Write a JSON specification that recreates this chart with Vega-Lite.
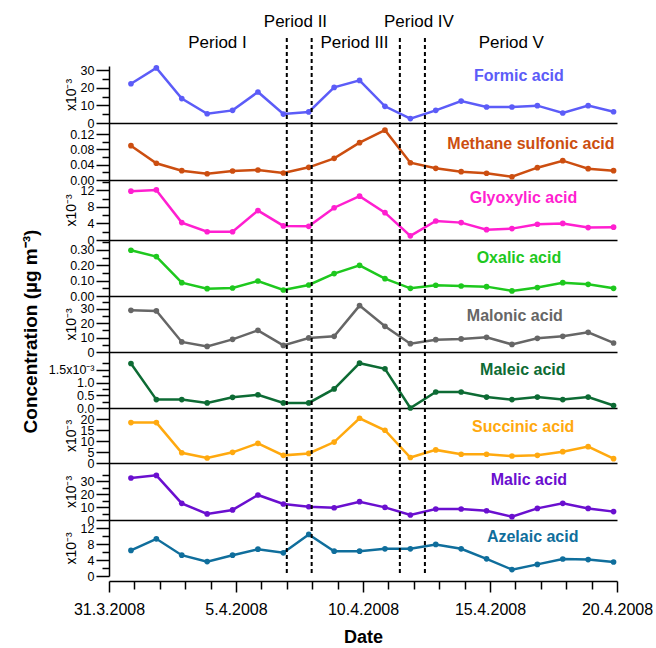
{
  "$schema": "https://vega.github.io/schema/vega-lite/v6.json",
  "padding": {"left": 20, "top": 0, "right": 0, "bottom": 0},
  "spacing": 0,
  "bounds": "flush",
  "config": {
    "view": {"stroke": null},
    "font": "Liberation Sans",
    "axis": {"labelFont": "Liberation Sans", "titleFont": "Liberation Sans", "grid": false, "domainColor": "black", "domainWidth": 1.5, "tickColor": "black", "tickWidth": 1.5, "labelColor": "black", "titleColor": "black", "labelOverlap": false, "tickCount": 100},
    "axisY": {"labelFontSize": 12.5, "labelPadding": 2, "titleFontSize": 14, "titleFontWeight": "normal", "titlePadding": 2, "labelOverlap": false, "labelBound": false}
  },
  "datasets": {
    "conc": [
      {"date":"2008-03-31T20:45:00","acid":"Formic acid","conc":0.0224},
      {"date":"2008-04-01T20:45:00","acid":"Formic acid","conc":0.0314},
      {"date":"2008-04-02T20:45:00","acid":"Formic acid","conc":0.0139},
      {"date":"2008-04-03T20:45:00","acid":"Formic acid","conc":0.0053},
      {"date":"2008-04-04T20:45:00","acid":"Formic acid","conc":0.0072},
      {"date":"2008-04-05T20:45:00","acid":"Formic acid","conc":0.0177},
      {"date":"2008-04-06T20:45:00","acid":"Formic acid","conc":0.0051},
      {"date":"2008-04-07T20:45:00","acid":"Formic acid","conc":0.0063},
      {"date":"2008-04-08T20:45:00","acid":"Formic acid","conc":0.0203},
      {"date":"2008-04-09T20:45:00","acid":"Formic acid","conc":0.0243},
      {"date":"2008-04-10T20:45:00","acid":"Formic acid","conc":0.0095},
      {"date":"2008-04-11T20:45:00","acid":"Formic acid","conc":0.0025},
      {"date":"2008-04-12T20:45:00","acid":"Formic acid","conc":0.0072},
      {"date":"2008-04-13T20:45:00","acid":"Formic acid","conc":0.0125},
      {"date":"2008-04-14T20:45:00","acid":"Formic acid","conc":0.0091},
      {"date":"2008-04-15T20:45:00","acid":"Formic acid","conc":0.0091},
      {"date":"2008-04-16T20:45:00","acid":"Formic acid","conc":0.0099},
      {"date":"2008-04-17T20:45:00","acid":"Formic acid","conc":0.0057},
      {"date":"2008-04-18T20:45:00","acid":"Formic acid","conc":0.0099},
      {"date":"2008-04-19T20:45:00","acid":"Formic acid","conc":0.0064},

      {"date":"2008-03-31T20:45:00","acid":"Methane sulfonic acid","conc":0.0895},
      {"date":"2008-04-01T20:45:00","acid":"Methane sulfonic acid","conc":0.0436},
      {"date":"2008-04-02T20:45:00","acid":"Methane sulfonic acid","conc":0.0243},
      {"date":"2008-04-03T20:45:00","acid":"Methane sulfonic acid","conc":0.0164},
      {"date":"2008-04-04T20:45:00","acid":"Methane sulfonic acid","conc":0.0235},
      {"date":"2008-04-05T20:45:00","acid":"Methane sulfonic acid","conc":0.0261},
      {"date":"2008-04-06T20:45:00","acid":"Methane sulfonic acid","conc":0.0183},
      {"date":"2008-04-07T20:45:00","acid":"Methane sulfonic acid","conc":0.0331},
      {"date":"2008-04-08T20:45:00","acid":"Methane sulfonic acid","conc":0.0566},
      {"date":"2008-04-09T20:45:00","acid":"Methane sulfonic acid","conc":0.0973},
      {"date":"2008-04-10T20:45:00","acid":"Methane sulfonic acid","conc":0.1300},
      {"date":"2008-04-11T20:45:00","acid":"Methane sulfonic acid","conc":0.0451},
      {"date":"2008-04-12T20:45:00","acid":"Methane sulfonic acid","conc":0.0305},
      {"date":"2008-04-13T20:45:00","acid":"Methane sulfonic acid","conc":0.0217},
      {"date":"2008-04-14T20:45:00","acid":"Methane sulfonic acid","conc":0.0175},
      {"date":"2008-04-15T20:45:00","acid":"Methane sulfonic acid","conc":0.0086},
      {"date":"2008-04-16T20:45:00","acid":"Methane sulfonic acid","conc":0.0321},
      {"date":"2008-04-17T20:45:00","acid":"Methane sulfonic acid","conc":0.0504},
      {"date":"2008-04-18T20:45:00","acid":"Methane sulfonic acid","conc":0.0295},
      {"date":"2008-04-19T20:45:00","acid":"Methane sulfonic acid","conc":0.0243},

      {"date":"2008-03-31T20:45:00","acid":"Glyoxylic acid","conc":0.0118},
      {"date":"2008-04-01T20:45:00","acid":"Glyoxylic acid","conc":0.0121},
      {"date":"2008-04-02T20:45:00","acid":"Glyoxylic acid","conc":0.0042},
      {"date":"2008-04-03T20:45:00","acid":"Glyoxylic acid","conc":0.0020},
      {"date":"2008-04-04T20:45:00","acid":"Glyoxylic acid","conc":0.0020},
      {"date":"2008-04-05T20:45:00","acid":"Glyoxylic acid","conc":0.0071},
      {"date":"2008-04-06T20:45:00","acid":"Glyoxylic acid","conc":0.0034},
      {"date":"2008-04-07T20:45:00","acid":"Glyoxylic acid","conc":0.0033},
      {"date":"2008-04-08T20:45:00","acid":"Glyoxylic acid","conc":0.0078},
      {"date":"2008-04-09T20:45:00","acid":"Glyoxylic acid","conc":0.0106},
      {"date":"2008-04-10T20:45:00","acid":"Glyoxylic acid","conc":0.0066},
      {"date":"2008-04-11T20:45:00","acid":"Glyoxylic acid","conc":0.0010},
      {"date":"2008-04-12T20:45:00","acid":"Glyoxylic acid","conc":0.0046},
      {"date":"2008-04-13T20:45:00","acid":"Glyoxylic acid","conc":0.0042},
      {"date":"2008-04-14T20:45:00","acid":"Glyoxylic acid","conc":0.0025},
      {"date":"2008-04-15T20:45:00","acid":"Glyoxylic acid","conc":0.00275},
      {"date":"2008-04-16T20:45:00","acid":"Glyoxylic acid","conc":0.0038},
      {"date":"2008-04-17T20:45:00","acid":"Glyoxylic acid","conc":0.0040},
      {"date":"2008-04-18T20:45:00","acid":"Glyoxylic acid","conc":0.0030},
      {"date":"2008-04-19T20:45:00","acid":"Glyoxylic acid","conc":0.0031},

      {"date":"2008-03-31T20:45:00","acid":"Oxalic acid","conc":0.298},
      {"date":"2008-04-01T20:45:00","acid":"Oxalic acid","conc":0.257},
      {"date":"2008-04-02T20:45:00","acid":"Oxalic acid","conc":0.087},
      {"date":"2008-04-03T20:45:00","acid":"Oxalic acid","conc":0.048},
      {"date":"2008-04-04T20:45:00","acid":"Oxalic acid","conc":0.052},
      {"date":"2008-04-05T20:45:00","acid":"Oxalic acid","conc":0.098},
      {"date":"2008-04-06T20:45:00","acid":"Oxalic acid","conc":0.039},
      {"date":"2008-04-07T20:45:00","acid":"Oxalic acid","conc":0.072},
      {"date":"2008-04-08T20:45:00","acid":"Oxalic acid","conc":0.146},
      {"date":"2008-04-09T20:45:00","acid":"Oxalic acid","conc":0.200},
      {"date":"2008-04-10T20:45:00","acid":"Oxalic acid","conc":0.113},
      {"date":"2008-04-11T20:45:00","acid":"Oxalic acid","conc":0.050},
      {"date":"2008-04-12T20:45:00","acid":"Oxalic acid","conc":0.070},
      {"date":"2008-04-13T20:45:00","acid":"Oxalic acid","conc":0.065},
      {"date":"2008-04-14T20:45:00","acid":"Oxalic acid","conc":0.061},
      {"date":"2008-04-15T20:45:00","acid":"Oxalic acid","conc":0.033},
      {"date":"2008-04-16T20:45:00","acid":"Oxalic acid","conc":0.055},
      {"date":"2008-04-17T20:45:00","acid":"Oxalic acid","conc":0.087},
      {"date":"2008-04-18T20:45:00","acid":"Oxalic acid","conc":0.076},
      {"date":"2008-04-19T20:45:00","acid":"Oxalic acid","conc":0.050},

      {"date":"2008-03-31T20:45:00","acid":"Malonic acid","conc":0.0290},
      {"date":"2008-04-01T20:45:00","acid":"Malonic acid","conc":0.0286},
      {"date":"2008-04-02T20:45:00","acid":"Malonic acid","conc":0.0070},
      {"date":"2008-04-03T20:45:00","acid":"Malonic acid","conc":0.0039},
      {"date":"2008-04-04T20:45:00","acid":"Malonic acid","conc":0.0088},
      {"date":"2008-04-05T20:45:00","acid":"Malonic acid","conc":0.0151},
      {"date":"2008-04-06T20:45:00","acid":"Malonic acid","conc":0.0046},
      {"date":"2008-04-07T20:45:00","acid":"Malonic acid","conc":0.0098},
      {"date":"2008-04-08T20:45:00","acid":"Malonic acid","conc":0.0109},
      {"date":"2008-04-09T20:45:00","acid":"Malonic acid","conc":0.0323},
      {"date":"2008-04-10T20:45:00","acid":"Malonic acid","conc":0.0179},
      {"date":"2008-04-11T20:45:00","acid":"Malonic acid","conc":0.0058},
      {"date":"2008-04-12T20:45:00","acid":"Malonic acid","conc":0.0086},
      {"date":"2008-04-13T20:45:00","acid":"Malonic acid","conc":0.0091},
      {"date":"2008-04-14T20:45:00","acid":"Malonic acid","conc":0.0102},
      {"date":"2008-04-15T20:45:00","acid":"Malonic acid","conc":0.0053},
      {"date":"2008-04-16T20:45:00","acid":"Malonic acid","conc":0.0095},
      {"date":"2008-04-17T20:45:00","acid":"Malonic acid","conc":0.0109},
      {"date":"2008-04-18T20:45:00","acid":"Malonic acid","conc":0.0137},
      {"date":"2008-04-19T20:45:00","acid":"Malonic acid","conc":0.0063},

      {"date":"2008-03-31T20:45:00","acid":"Maleic acid","conc":0.00175},
      {"date":"2008-04-01T20:45:00","acid":"Maleic acid","conc":0.00033},
      {"date":"2008-04-02T20:45:00","acid":"Maleic acid","conc":0.00033},
      {"date":"2008-04-03T20:45:00","acid":"Maleic acid","conc":0.00020},
      {"date":"2008-04-04T20:45:00","acid":"Maleic acid","conc":0.00042},
      {"date":"2008-04-05T20:45:00","acid":"Maleic acid","conc":0.00052},
      {"date":"2008-04-06T20:45:00","acid":"Maleic acid","conc":0.00020},
      {"date":"2008-04-07T20:45:00","acid":"Maleic acid","conc":0.00020},
      {"date":"2008-04-08T20:45:00","acid":"Maleic acid","conc":0.00075},
      {"date":"2008-04-09T20:45:00","acid":"Maleic acid","conc":0.00176},
      {"date":"2008-04-10T20:45:00","acid":"Maleic acid","conc":0.00154},
      {"date":"2008-04-11T20:45:00","acid":"Maleic acid","conc":0.0},
      {"date":"2008-04-12T20:45:00","acid":"Maleic acid","conc":0.00063},
      {"date":"2008-04-13T20:45:00","acid":"Maleic acid","conc":0.00063},
      {"date":"2008-04-14T20:45:00","acid":"Maleic acid","conc":0.00043},
      {"date":"2008-04-15T20:45:00","acid":"Maleic acid","conc":0.00033},
      {"date":"2008-04-16T20:45:00","acid":"Maleic acid","conc":0.00043},
      {"date":"2008-04-17T20:45:00","acid":"Maleic acid","conc":0.00033},
      {"date":"2008-04-18T20:45:00","acid":"Maleic acid","conc":0.00043},
      {"date":"2008-04-19T20:45:00","acid":"Maleic acid","conc":0.00010},

      {"date":"2008-03-31T20:45:00","acid":"Succinic acid","conc":0.0185},
      {"date":"2008-04-01T20:45:00","acid":"Succinic acid","conc":0.0185},
      {"date":"2008-04-02T20:45:00","acid":"Succinic acid","conc":0.0047},
      {"date":"2008-04-03T20:45:00","acid":"Succinic acid","conc":0.0023},
      {"date":"2008-04-04T20:45:00","acid":"Succinic acid","conc":0.0049},
      {"date":"2008-04-05T20:45:00","acid":"Succinic acid","conc":0.0090},
      {"date":"2008-04-06T20:45:00","acid":"Succinic acid","conc":0.0035},
      {"date":"2008-04-07T20:45:00","acid":"Succinic acid","conc":0.0044},
      {"date":"2008-04-08T20:45:00","acid":"Succinic acid","conc":0.0096},
      {"date":"2008-04-09T20:45:00","acid":"Succinic acid","conc":0.0205},
      {"date":"2008-04-10T20:45:00","acid":"Succinic acid","conc":0.0150},
      {"date":"2008-04-11T20:45:00","acid":"Succinic acid","conc":0.0025},
      {"date":"2008-04-12T20:45:00","acid":"Succinic acid","conc":0.0060},
      {"date":"2008-04-13T20:45:00","acid":"Succinic acid","conc":0.0040},
      {"date":"2008-04-14T20:45:00","acid":"Succinic acid","conc":0.0040},
      {"date":"2008-04-15T20:45:00","acid":"Succinic acid","conc":0.0032},
      {"date":"2008-04-16T20:45:00","acid":"Succinic acid","conc":0.0035},
      {"date":"2008-04-17T20:45:00","acid":"Succinic acid","conc":0.0052},
      {"date":"2008-04-18T20:45:00","acid":"Succinic acid","conc":0.0075},
      {"date":"2008-04-19T20:45:00","acid":"Succinic acid","conc":0.0020},

      {"date":"2008-03-31T20:45:00","acid":"Malic acid","conc":0.0326},
      {"date":"2008-04-01T20:45:00","acid":"Malic acid","conc":0.0346},
      {"date":"2008-04-02T20:45:00","acid":"Malic acid","conc":0.0129},
      {"date":"2008-04-03T20:45:00","acid":"Malic acid","conc":0.0047},
      {"date":"2008-04-04T20:45:00","acid":"Malic acid","conc":0.0078},
      {"date":"2008-04-05T20:45:00","acid":"Malic acid","conc":0.0194},
      {"date":"2008-04-06T20:45:00","acid":"Malic acid","conc":0.0124},
      {"date":"2008-04-07T20:45:00","acid":"Malic acid","conc":0.0103},
      {"date":"2008-04-08T20:45:00","acid":"Malic acid","conc":0.0095},
      {"date":"2008-04-09T20:45:00","acid":"Malic acid","conc":0.0142},
      {"date":"2008-04-10T20:45:00","acid":"Malic acid","conc":0.0098},
      {"date":"2008-04-11T20:45:00","acid":"Malic acid","conc":0.0039},
      {"date":"2008-04-12T20:45:00","acid":"Malic acid","conc":0.0085},
      {"date":"2008-04-13T20:45:00","acid":"Malic acid","conc":0.0085},
      {"date":"2008-04-14T20:45:00","acid":"Malic acid","conc":0.0072},
      {"date":"2008-04-15T20:45:00","acid":"Malic acid","conc":0.0026},
      {"date":"2008-04-16T20:45:00","acid":"Malic acid","conc":0.0090},
      {"date":"2008-04-17T20:45:00","acid":"Malic acid","conc":0.0129},
      {"date":"2008-04-18T20:45:00","acid":"Malic acid","conc":0.0090},
      {"date":"2008-04-19T20:45:00","acid":"Malic acid","conc":0.0065},

      {"date":"2008-03-31T20:45:00","acid":"Azelaic acid","conc":0.0064},
      {"date":"2008-04-01T20:45:00","acid":"Azelaic acid","conc":0.0093},
      {"date":"2008-04-02T20:45:00","acid":"Azelaic acid","conc":0.0052},
      {"date":"2008-04-03T20:45:00","acid":"Azelaic acid","conc":0.0036},
      {"date":"2008-04-04T20:45:00","acid":"Azelaic acid","conc":0.0052},
      {"date":"2008-04-05T20:45:00","acid":"Azelaic acid","conc":0.0067},
      {"date":"2008-04-06T20:45:00","acid":"Azelaic acid","conc":0.0058},
      {"date":"2008-04-07T20:45:00","acid":"Azelaic acid","conc":0.0104},
      {"date":"2008-04-08T20:45:00","acid":"Azelaic acid","conc":0.0062},
      {"date":"2008-04-09T20:45:00","acid":"Azelaic acid","conc":0.0062},
      {"date":"2008-04-10T20:45:00","acid":"Azelaic acid","conc":0.0068},
      {"date":"2008-04-11T20:45:00","acid":"Azelaic acid","conc":0.0068},
      {"date":"2008-04-12T20:45:00","acid":"Azelaic acid","conc":0.0079},
      {"date":"2008-04-13T20:45:00","acid":"Azelaic acid","conc":0.0068},
      {"date":"2008-04-14T20:45:00","acid":"Azelaic acid","conc":0.0043},
      {"date":"2008-04-15T20:45:00","acid":"Azelaic acid","conc":0.0016},
      {"date":"2008-04-16T20:45:00","acid":"Azelaic acid","conc":0.0029},
      {"date":"2008-04-17T20:45:00","acid":"Azelaic acid","conc":0.00425},
      {"date":"2008-04-18T20:45:00","acid":"Azelaic acid","conc":0.0041},
      {"date":"2008-04-19T20:45:00","acid":"Azelaic acid","conc":0.0035}
    ],
    "names": [
      {"acid":"Formic acid","date":"2008-04-16T03:20:00","conc":0.027},
      {"acid":"Methane sulfonic acid","date":"2008-04-16T14:40:00","conc":0.0931},
      {"acid":"Glyoxylic acid","date":"2008-04-16T07:40:00","conc":0.0101},
      {"acid":"Oxalic acid","date":"2008-04-16T03:20:00","conc":0.248},
      {"acid":"Malonic acid","date":"2008-04-15T23:30:00","conc":0.0251},
      {"acid":"Maleic acid","date":"2008-04-16T07:00:00","conc":0.00149},
      {"acid":"Succinic acid","date":"2008-04-16T07:25:00","conc":0.0163},
      {"acid":"Malic acid","date":"2008-04-16T12:45:00","conc":0.031},
      {"acid":"Azelaic acid","date":"2008-04-16T16:20:00","conc":0.00975}
    ],
    "bounds": [
      {"date":"2008-04-07T00:00:00"},
      {"date":"2008-04-07T23:30:00"},
      {"date":"2008-04-11T10:50:00"},
      {"date":"2008-04-12T10:30:00"}
    ],
    "periods": [
      {"period":"Period I","date":"2008-04-04T06:30:00","tier":"lower"},
      {"period":"Period II","date":"2008-04-07T08:10:00","tier":"upper"},
      {"period":"Period III","date":"2008-04-09T16:00:00","tier":"lower"},
      {"period":"Period IV","date":"2008-04-12T04:50:00","tier":"upper"},
      {"period":"Period V","date":"2008-04-15T20:10:00","tier":"lower"}
    ]
  },
  "vconcat": [
    {
      "width": 508, "height": 66,
      "encoding": {"x": {"field": "date", "type": "temporal", "scale": {"domain": [{"year":2008,"month":3,"date":31},{"year":2008,"month":4,"date":20}], "nice": false}, "axis": null}},
      "layer": [
        {"data": {"name": "bounds"}, "mark": {"type": "rule", "strokeDash": [4,3], "strokeWidth": 2, "color": "black"},
         "encoding": {"y": {"datum": 28, "type": "quantitative", "scale": {"domain": [0,66]}, "axis": null}, "y2": {"datum": 0}}},
        {"data": {"name": "periods"}, "mark": {"type": "text", "fontSize": 17, "color": "black", "baseline": "middle"},
         "encoding": {"y": {"field": "tier", "type": "nominal", "scale": {"domain": ["upper","lower"], "range": [22,43], "padding": 0}, "axis": null}, "text": {"field": "period"}}}
      ],
      "resolve": {"scale": {"y": "independent"}}
    },
    {
      "width": 508, "height": 57,
      "encoding": {"x": {"field": "date", "type": "temporal", "scale": {"domain": [{"year":2008,"month":3,"date":31},{"year":2008,"month":4,"date":20}], "nice": false}, "axis": {"labels": false, "ticks": false, "title": null}}},
      "layer": [
        {"data": {"name": "conc"}, "transform": [{"filter": "datum.acid === 'Formic acid'"}],
         "mark": {"type": "line", "color": "#5c5cf8", "strokeWidth": 2.5, "point": {"filled": true, "size": 32, "color": "#5c5cf8"}},
         "encoding": {"y": {"field": "conc", "type": "quantitative", "scale": {"domain": [0,0.0325], "nice": false},
           "axis": {"values": [0,0.005,0.01,0.015,0.02,0.025,0.03], "tickCount": 100, "labelOverlap": false, "title": "x10⁻³", "labelExpr": "round(datum.value*1000) % 10 === 0 ? format(datum.value*1000,'d') : ''", "tickSize": {"condition": {"test": "round(datum.value*1000) % 10 === 0", "value": 13}, "value": 7}}}}},
        {"data": {"name": "names"}, "transform": [{"filter": "datum.acid === 'Formic acid'"}],
         "mark": {"type": "text", "color": "#5c5cf8", "fontWeight": "bold", "fontSize": 16},
         "encoding": {"y": {"field": "conc", "type": "quantitative"}, "text": {"field": "acid"}}},
        {"data": {"name": "bounds"}, "mark": {"type": "rule", "strokeDash": [4,3], "strokeWidth": 2, "color": "black"}, "encoding": {}}
      ]
    },
    {
      "width": 508, "height": 57,
      "encoding": {"x": {"field": "date", "type": "temporal", "scale": {"domain": [{"year":2008,"month":3,"date":31},{"year":2008,"month":4,"date":20}], "nice": false}, "axis": {"labels": false, "ticks": false, "title": null}}},
      "layer": [
        {"data": {"name": "conc"}, "transform": [{"filter": "datum.acid === 'Methane sulfonic acid'"}],
         "mark": {"type": "line", "color": "#cc4e10", "strokeWidth": 2.5, "point": {"filled": true, "size": 32, "color": "#cc4e10"}},
         "encoding": {"y": {"field": "conc", "type": "quantitative", "scale": {"domain": [0,0.1487], "nice": false},
           "axis": {"values": [0,0.02,0.04,0.06,0.08,0.1,0.12], "tickCount": 100, "labelOverlap": false, "title": null, "labelExpr": "round(datum.value*100) % 4 === 0 ? format(datum.value,'.2f') : ''", "tickSize": {"condition": {"test": "round(datum.value*100) % 4 === 0", "value": 13}, "value": 7}}}}},
        {"data": {"name": "names"}, "transform": [{"filter": "datum.acid === 'Methane sulfonic acid'"}],
         "mark": {"type": "text", "color": "#cc4e10", "fontWeight": "bold", "fontSize": 16},
         "encoding": {"y": {"field": "conc", "type": "quantitative"}, "text": {"field": "acid"}}},
        {"data": {"name": "bounds"}, "mark": {"type": "rule", "strokeDash": [4,3], "strokeWidth": 2, "color": "black"}, "encoding": {}}
      ]
    },
    {
      "width": 508, "height": 60,
      "encoding": {"x": {"field": "date", "type": "temporal", "scale": {"domain": [{"year":2008,"month":3,"date":31},{"year":2008,"month":4,"date":20}], "nice": false}, "axis": {"labels": false, "ticks": false, "title": null}}},
      "layer": [
        {"data": {"name": "conc"}, "transform": [{"filter": "datum.acid === 'Glyoxylic acid'"}],
         "mark": {"type": "line", "color": "#ff1fd0", "strokeWidth": 2.5, "point": {"filled": true, "size": 32, "color": "#ff1fd0"}},
         "encoding": {"y": {"field": "conc", "type": "quantitative", "scale": {"domain": [0,0.0145], "nice": false},
           "axis": {"values": [0,0.002,0.004,0.006,0.008,0.01,0.012,0.014], "tickCount": 100, "labelOverlap": false, "title": "x10⁻³", "labelExpr": "round(datum.value*1000) % 4 === 0 ? format(datum.value*1000,'d') : ''", "tickSize": {"condition": {"test": "round(datum.value*1000) % 4 === 0", "value": 13}, "value": 7}}}}},
        {"data": {"name": "names"}, "transform": [{"filter": "datum.acid === 'Glyoxylic acid'"}],
         "mark": {"type": "text", "color": "#ff1fd0", "fontWeight": "bold", "fontSize": 16},
         "encoding": {"y": {"field": "conc", "type": "quantitative"}, "text": {"field": "acid"}}},
        {"data": {"name": "bounds"}, "mark": {"type": "rule", "strokeDash": [4,3], "strokeWidth": 2, "color": "black"}, "encoding": {}}
      ]
    },
    {
      "width": 508, "height": 56,
      "encoding": {"x": {"field": "date", "type": "temporal", "scale": {"domain": [{"year":2008,"month":3,"date":31},{"year":2008,"month":4,"date":20}], "nice": false}, "axis": {"labels": false, "ticks": false, "title": null}}},
      "layer": [
        {"data": {"name": "conc"}, "transform": [{"filter": "datum.acid === 'Oxalic acid'"}],
         "mark": {"type": "line", "color": "#1ec81e", "strokeWidth": 2.5, "point": {"filled": true, "size": 32, "color": "#1ec81e"}},
         "encoding": {"y": {"field": "conc", "type": "quantitative", "scale": {"domain": [0,0.365], "nice": false},
           "axis": {"values": [0,0.05,0.1,0.15,0.2,0.25,0.3,0.35], "tickCount": 100, "labelOverlap": false, "title": null, "labelExpr": "round(datum.value*100) % 10 === 0 ? format(datum.value,'.2f') : ''", "tickSize": {"condition": {"test": "round(datum.value*100) % 10 === 0", "value": 13}, "value": 7}}}}},
        {"data": {"name": "names"}, "transform": [{"filter": "datum.acid === 'Oxalic acid'"}],
         "mark": {"type": "text", "color": "#1ec81e", "fontWeight": "bold", "fontSize": 16},
         "encoding": {"y": {"field": "conc", "type": "quantitative"}, "text": {"field": "acid"}}},
        {"data": {"name": "bounds"}, "mark": {"type": "rule", "strokeDash": [4,3], "strokeWidth": 2, "color": "black"}, "encoding": {}}
      ]
    },
    {
      "width": 508, "height": 56,
      "encoding": {"x": {"field": "date", "type": "temporal", "scale": {"domain": [{"year":2008,"month":3,"date":31},{"year":2008,"month":4,"date":20}], "nice": false}, "axis": {"labels": false, "ticks": false, "title": null}}},
      "layer": [
        {"data": {"name": "conc"}, "transform": [{"filter": "datum.acid === 'Malonic acid'"}],
         "mark": {"type": "line", "color": "#666666", "strokeWidth": 2.5, "point": {"filled": true, "size": 32, "color": "#666666"}},
         "encoding": {"y": {"field": "conc", "type": "quantitative", "scale": {"domain": [0,0.039], "nice": false},
           "axis": {"values": [0,0.005,0.01,0.015,0.02,0.025,0.03,0.035], "tickCount": 100, "labelOverlap": false, "title": "x10⁻³", "labelExpr": "round(datum.value*1000) % 10 === 0 ? format(datum.value*1000,'d') : ''", "tickSize": {"condition": {"test": "round(datum.value*1000) % 10 === 0", "value": 13}, "value": 7}}}}},
        {"data": {"name": "names"}, "transform": [{"filter": "datum.acid === 'Malonic acid'"}],
         "mark": {"type": "text", "color": "#666666", "fontWeight": "bold", "fontSize": 16},
         "encoding": {"y": {"field": "conc", "type": "quantitative"}, "text": {"field": "acid"}}},
        {"data": {"name": "bounds"}, "mark": {"type": "rule", "strokeDash": [4,3], "strokeWidth": 2, "color": "black"}, "encoding": {}}
      ]
    },
    {
      "width": 508, "height": 56,
      "encoding": {"x": {"field": "date", "type": "temporal", "scale": {"domain": [{"year":2008,"month":3,"date":31},{"year":2008,"month":4,"date":20}], "nice": false}, "axis": {"labels": false, "ticks": false, "title": null}}},
      "layer": [
        {"data": {"name": "conc"}, "transform": [{"filter": "datum.acid === 'Maleic acid'"}],
         "mark": {"type": "line", "color": "#0d6b34", "strokeWidth": 2.5, "point": {"filled": true, "size": 32, "color": "#0d6b34"}},
         "encoding": {"y": {"field": "conc", "type": "quantitative", "scale": {"domain": [0,0.0022], "nice": false},
           "axis": {"values": [0,0.00025,0.0005,0.00075,0.001,0.00125,0.0015,0.00175], "tickCount": 100, "labelOverlap": false, "title": "Concentration (µg m⁻³)", "titleFontSize": 19, "titleFontWeight": "bold", "titleX": -79, "titleY": -21, "titleBaseline": "middle", "titleAngle": -90,
             "labelExpr": "round(datum.value*10000) === 15 ? '1.5x10⁻³' : (round(datum.value*10000) % 5 === 0 ? format(datum.value*1000,'.1f') : '')", "tickSize": {"condition": {"test": "round(datum.value*10000) % 5 === 0", "value": 13}, "value": 7}}}}},
        {"data": {"name": "names"}, "transform": [{"filter": "datum.acid === 'Maleic acid'"}],
         "mark": {"type": "text", "color": "#0d6b34", "fontWeight": "bold", "fontSize": 16},
         "encoding": {"y": {"field": "conc", "type": "quantitative"}, "text": {"field": "acid"}}},
        {"data": {"name": "bounds"}, "mark": {"type": "rule", "strokeDash": [4,3], "strokeWidth": 2, "color": "black"}, "encoding": {}}
      ]
    },
    {
      "width": 508, "height": 55,
      "encoding": {"x": {"field": "date", "type": "temporal", "scale": {"domain": [{"year":2008,"month":3,"date":31},{"year":2008,"month":4,"date":20}], "nice": false}, "axis": {"labels": false, "ticks": false, "title": null}}},
      "layer": [
        {"data": {"name": "conc"}, "transform": [{"filter": "datum.acid === 'Succinic acid'"}],
         "mark": {"type": "line", "color": "#ffa90f", "strokeWidth": 2.5, "point": {"filled": true, "size": 32, "color": "#ffa90f"}},
         "encoding": {"y": {"field": "conc", "type": "quantitative", "scale": {"domain": [0,0.0252], "nice": false},
           "axis": {"values": [0,0.005,0.01,0.015,0.02], "tickCount": 100, "labelOverlap": false, "title": "x10⁻³", "labelExpr": "format(datum.value*1000,'d')", "tickSize": 13}}}},
        {"data": {"name": "names"}, "transform": [{"filter": "datum.acid === 'Succinic acid'"}],
         "mark": {"type": "text", "color": "#ffa90f", "fontWeight": "bold", "fontSize": 16},
         "encoding": {"y": {"field": "conc", "type": "quantitative"}, "text": {"field": "acid"}}},
        {"data": {"name": "bounds"}, "mark": {"type": "rule", "strokeDash": [4,3], "strokeWidth": 2, "color": "black"}, "encoding": {}}
      ]
    },
    {
      "width": 508, "height": 57,
      "encoding": {"x": {"field": "date", "type": "temporal", "scale": {"domain": [{"year":2008,"month":3,"date":31},{"year":2008,"month":4,"date":20}], "nice": false}, "axis": {"labels": false, "ticks": false, "title": null}}},
      "layer": [
        {"data": {"name": "conc"}, "transform": [{"filter": "datum.acid === 'Malic acid'"}],
         "mark": {"type": "line", "color": "#6a0fcf", "strokeWidth": 2.5, "point": {"filled": true, "size": 32, "color": "#6a0fcf"}},
         "encoding": {"y": {"field": "conc", "type": "quantitative", "scale": {"domain": [0,0.0442], "nice": false},
           "axis": {"values": [0,0.005,0.01,0.015,0.02,0.025,0.03,0.035], "tickCount": 100, "labelOverlap": false, "title": "x10⁻³", "labelExpr": "round(datum.value*1000) % 10 === 0 ? format(datum.value*1000,'d') : ''", "tickSize": {"condition": {"test": "round(datum.value*1000) % 10 === 0", "value": 13}, "value": 7}}}}},
        {"data": {"name": "names"}, "transform": [{"filter": "datum.acid === 'Malic acid'"}],
         "mark": {"type": "text", "color": "#6a0fcf", "fontWeight": "bold", "fontSize": 16},
         "encoding": {"y": {"field": "conc", "type": "quantitative"}, "text": {"field": "acid"}}},
        {"data": {"name": "bounds"}, "mark": {"type": "rule", "strokeDash": [4,3], "strokeWidth": 2, "color": "black"}, "encoding": {}}
      ]
    },
    {
      "width": 508, "height": 56,
      "encoding": {"x": {"field": "date", "type": "temporal", "scale": {"domain": [{"year":2008,"month":3,"date":31},{"year":2008,"month":4,"date":20}], "nice": false},
        "axis": {"values": [{"year":2008,"month":3,"date":31},{"year":2008,"month":4,"date":1},{"year":2008,"month":4,"date":2},{"year":2008,"month":4,"date":3},{"year":2008,"month":4,"date":4},{"year":2008,"month":4,"date":5},{"year":2008,"month":4,"date":6},{"year":2008,"month":4,"date":7},{"year":2008,"month":4,"date":8},{"year":2008,"month":4,"date":9},{"year":2008,"month":4,"date":10},{"year":2008,"month":4,"date":11},{"year":2008,"month":4,"date":12},{"year":2008,"month":4,"date":13},{"year":2008,"month":4,"date":14},{"year":2008,"month":4,"date":15},{"year":2008,"month":4,"date":16},{"year":2008,"month":4,"date":17},{"year":2008,"month":4,"date":18},{"year":2008,"month":4,"date":19},{"year":2008,"month":4,"date":20}],
          "tickCount": 100, "offset": 5, "title": "Date", "titleFontSize": 18, "titleFontWeight": "bold", "titlePadding": 11, "labelOverlap": false,
          "labelFontSize": 16, "labelPadding": 9, "labelFlush": false,
          "labelExpr": "indexof([31,5,10,15,20], date(datum.value)) >= 0 ? timeFormat(datum.value, '%-d.%-m.%Y') : ''",
          "tickSize": {"condition": {"test": "indexof([31,5,10,15,20], date(datum.value)) >= 0", "value": 11}, "value": 8}}}},
      "layer": [
        {"data": {"name": "conc"}, "transform": [{"filter": "datum.acid === 'Azelaic acid'"}],
         "mark": {"type": "line", "color": "#0f6e9c", "strokeWidth": 2.5, "point": {"filled": true, "size": 32, "color": "#0f6e9c"}},
         "encoding": {"y": {"field": "conc", "type": "quantitative", "scale": {"domain": [0,0.014], "nice": false},
           "axis": {"values": [0,0.002,0.004,0.006,0.008,0.01,0.012], "tickCount": 100, "labelOverlap": false, "title": "x10⁻³", "labelExpr": "round(datum.value*1000) % 4 === 0 ? format(datum.value*1000,'d') : ''", "tickSize": {"condition": {"test": "round(datum.value*1000) % 4 === 0", "value": 13}, "value": 7}}}}},
        {"data": {"name": "names"}, "transform": [{"filter": "datum.acid === 'Azelaic acid'"}],
         "mark": {"type": "text", "color": "#0f6e9c", "fontWeight": "bold", "fontSize": 16},
         "encoding": {"y": {"field": "conc", "type": "quantitative"}, "text": {"field": "acid"}}},
        {"data": {"name": "bounds"}, "mark": {"type": "rule", "strokeDash": [4,3], "strokeWidth": 2, "color": "black"}, "encoding": {}}
      ]
    }
  ]
}
